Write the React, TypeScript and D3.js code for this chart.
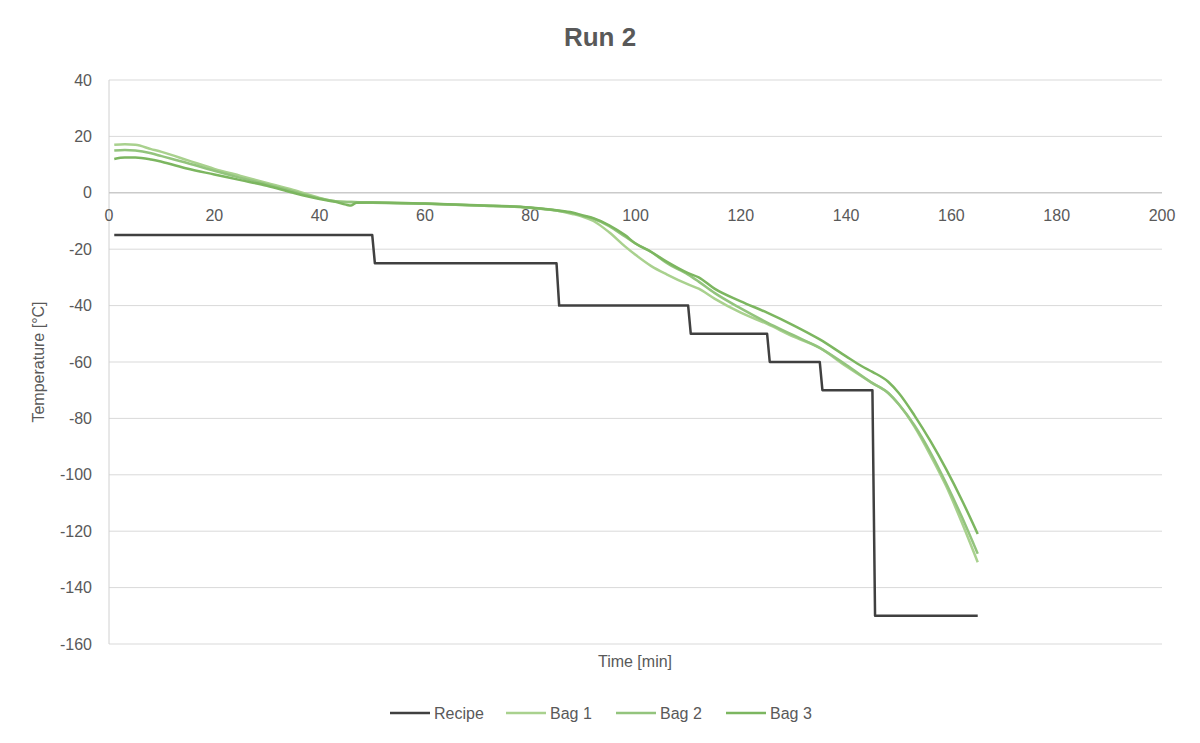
import React from "react";
import * as d3 from "d3";

// time [min], temperature [°C]
const recipe: [number, number][] = [
  [1, -15], [50, -15], [50.5, -25], [85, -25], [85.5, -40], [110, -40], [110.5, -50],
  [125, -50], [125.5, -60], [135, -60], [135.5, -70], [145, -70], [145.5, -150], [165, -150],
];

const bag1: [number, number][] = [
  [1, 17], [3, 17.2], [5, 17], [8, 15.5], [10, 14.5], [15, 11.5], [20, 8.5], [25, 6], [30, 3.5],
  [35, 1], [40, -1.8], [43, -3], [46, -3.3], [50, -3.4], [60, -3.8], [70, -4.5], [80, -5.3],
  [85, -6.3], [88, -7.5], [90, -8.5], [92, -10], [95, -14], [98, -19], [100, -22], [103, -26],
  [106, -29], [110, -32.5], [112, -34], [115, -37.5], [120, -42.5], [125, -46.5], [130, -51],
  [135, -55], [140, -61.5], [145, -67.5], [148, -71], [150, -75], [153, -83], [156, -93],
  [159, -104], [162, -117], [165, -131],
];

const bag2: [number, number][] = [
  [1, 15], [3, 15.2], [5, 15], [8, 14], [10, 13], [15, 10.5], [20, 7.8], [25, 5.3], [30, 3],
  [35, 0.5], [40, -2], [43, -3], [46, -3.3], [50, -3.5], [60, -3.9], [70, -4.5], [80, -5.3],
  [85, -6.3], [88, -7.2], [90, -8.2], [92, -9.2], [95, -11.8], [98, -15.5], [100, -18], [103, -21],
  [106, -25], [110, -29], [112, -31.5], [115, -35.5], [120, -41], [125, -46], [130, -50.5],
  [135, -55], [140, -61], [145, -67.5], [148, -71], [150, -75], [153, -82.5], [156, -92],
  [159, -103], [162, -115], [165, -128],
];

const bag3: [number, number][] = [
  [1, 12], [3, 12.5], [5, 12.5], [8, 11.8], [10, 11], [15, 8.5], [20, 6.5], [25, 4.5], [30, 2.5],
  [35, 0], [40, -2.2], [43, -3.2], [45, -4.2], [46, -4.5], [47, -3.5], [50, -3.4], [60, -3.8],
  [70, -4.4], [80, -5.2], [85, -6.2], [88, -7], [90, -8], [92, -9], [95, -11.5], [98, -15],
  [100, -18], [103, -21], [106, -24.5], [110, -28.5], [112, -30], [115, -34], [120, -38.5],
  [125, -42.5], [130, -47], [135, -52], [140, -58], [143, -61.5], [145, -63.5], [148, -67],
  [150, -71], [153, -79], [156, -88], [159, -98], [162, -109], [165, -121],
];

const series = [
  { name: "Recipe", data: recipe, color: "#404040", smooth: false },
  { name: "Bag 1", data: bag1, color: "#a9d18e", smooth: true },
  { name: "Bag 2", data: bag2, color: "#93c47d", smooth: true },
  { name: "Bag 3", data: bag3, color: "#7cb660", smooth: true },
];

const xTicks = [0, 20, 40, 60, 80, 100, 120, 140, 160, 180, 200];
const yTicks = [40, 20, 0, -20, -40, -60, -80, -100, -120, -140, -160];

const width = 1200;
const height = 743;
const font = "'Liberation Sans', Arial, sans-serif";
const textColor = "#595959";

export default function App() {
  const x = d3.scaleLinear().domain([0, 200]).range([109, 1162]);
  const y = d3.scaleLinear().domain([40, -160]).range([80, 644]);
  const straight = d3.line<[number, number]>().x((d) => x(d[0])).y((d) => y(d[1]));
  const smooth = d3
    .line<[number, number]>()
    .x((d) => x(d[0]))
    .y((d) => y(d[1]))
    .curve(d3.curveMonotoneX);

  const legendX = [390, 506, 616, 726];

  return (
    <svg width={width} height={height} style={{ position: "absolute", left: 0, top: 0 }}>
      <rect width={width} height={height} fill="#fff" />
      <text x={600} y={46} textAnchor="middle" fontFamily={font} fontWeight="bold" fontSize={26} fill={textColor}>
        Run 2
      </text>

      {/* gridlines */}
      {yTicks.map((t) => (
        <line key={t} x1={x(0)} x2={x(200)} y1={y(t)} y2={y(t)} stroke="#d9d9d9" strokeWidth={1} />
      ))}
      <line x1={x(0)} x2={x(0)} y1={y(40)} y2={y(-160)} stroke="#d0d0d0" strokeWidth={1} />
      <line x1={x(0)} x2={x(200)} y1={y(0)} y2={y(0)} stroke="#bfbfbf" strokeWidth={1} />

      {yTicks.map((t) => (
        <text key={t} x={92} y={y(t)} dy="0.35em" textAnchor="end" fontFamily={font} fontSize={16} fill={textColor}>
          {t}
        </text>
      ))}
      {xTicks.map((t) => (
        <text key={t} x={x(t)} y={y(0) + 28} textAnchor="middle" fontFamily={font} fontSize={16} fill={textColor}>
          {t}
        </text>
      ))}

      <text transform={`translate(44,${y(-60)}) rotate(-90)`} textAnchor="middle" fontFamily={font} fontSize={16} fill={textColor}>
        Temperature [°C]
      </text>
      <text x={635} y={667} textAnchor="middle" fontFamily={font} fontSize={16} fill={textColor}>
        Time [min]
      </text>

      {series.map((s) => (
        <path
          key={s.name}
          d={(s.smooth ? smooth(s.data) : straight(s.data)) ?? ""}
          fill="none"
          stroke={s.color}
          strokeWidth={2.5}
          strokeLinejoin="round"
        />
      ))}

      {series.map((s, i) => (
        <g key={s.name}>
          <line x1={legendX[i]} x2={legendX[i] + 40} y1={713} y2={713} stroke={s.color} strokeWidth={2.5} />
          <text x={legendX[i] + 44} y={713} dy="0.35em" fontFamily={font} fontSize={16} fill={textColor}>
            {s.name}
          </text>
        </g>
      ))}
    </svg>
  );
}
